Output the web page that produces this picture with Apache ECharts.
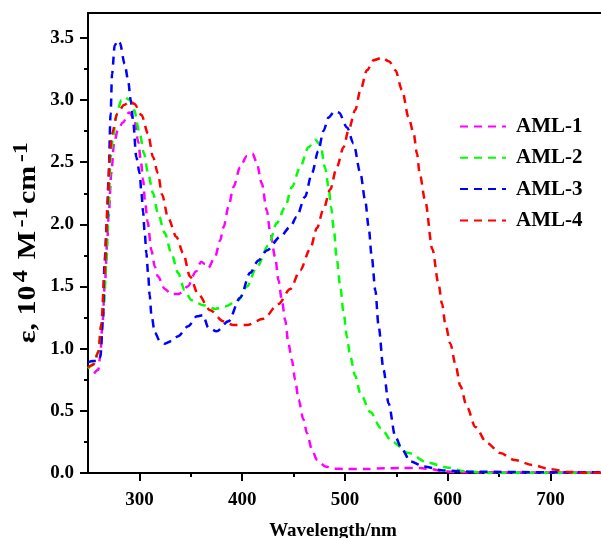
<!DOCTYPE html>
<html>
<head>
<meta charset="utf-8">
<script src="https://cdn.jsdelivr.net/npm/echarts@6/dist/echarts.min.js"></script>
<style>html,body{margin:0;padding:0;background:#fff}#c{width:601px;height:538px}</style>
</head>
<body>
<div id="c"></div>
<script>
// ---- data ----
var seriesNames = ['AML-1', 'AML-2', 'AML-3', 'AML-4'];
var xTicks = [300, 400, 500, 600, 700];
var xMinorTicks = [350, 450, 550, 650, 750];
var yTicks = [0, 0.5, 1.0, 1.5, 2.0, 2.5, 3.0, 3.5];
var yMinorTicks = [0.25, 0.75, 1.25, 1.75, 2.25, 2.75, 3.25];
var xTitle = 'Wavelength/nm';
var yTitle = '{a|ε, 10}{s|4}{a| M}{s|-1}{a|cm}{s|-1}';

var aml1Wl = [256,260,262,264,266.5,268.8,270,272.7,275.3,279,284,290,295,299,301.5,303.6,305.5,308,311.7,315,318,324.7,331,338,347,355,360,364,367,373.7,378.5,382,386.6,391.5,398,404.5,410,414,419,424,427,432,435.3,438.6,441.8,445,448.3,451.5,454.8,459.6,463,467.8,472.7,480.8,490,500,520,540,555,573,585,595,610,650,700,750];
var aml1Val = [0.80,0.83,0.95,1.20,1.53,1.87,2.06,2.41,2.65,2.76,2.82,2.90,2.85,2.66,2.50,2.36,2.18,2.02,1.79,1.66,1.58,1.48,1.44,1.44,1.50,1.62,1.70,1.68,1.65,1.74,1.87,1.98,2.14,2.30,2.46,2.55,2.57,2.50,2.33,2.11,1.95,1.74,1.55,1.39,1.23,1.04,0.91,0.75,0.59,0.43,0.32,0.19,0.107,0.053,0.035,0.032,0.032,0.038,0.04,0.04,0.03,0.015,0.007,0.005,0.004,0.004];

var aml2Wl = [250,253,256.5,260,263,265.6,267.8,270,272,274.3,277.6,282.5,286,290.6,294.8,300.3,304.5,308.4,313.3,318,324.7,331,337.6,344,350.6,362,373.7,383.4,396.4,404.5,414.3,425.6,433.7,441.8,448.3,456.4,464.5,471,476,480.8,484,486.5,489,492,495.4,498.6,502,505,510,515,524.6,535,546,562,580.5,599,617,635,650,750];
var aml2Val = [0.84,0.86,0.90,0.98,1.18,1.37,1.69,2.11,2.54,2.70,2.88,3.00,3.02,3.00,2.92,2.73,2.57,2.41,2.25,2.09,1.93,1.77,1.61,1.47,1.39,1.35,1.32,1.34,1.39,1.50,1.66,1.83,2.01,2.14,2.30,2.46,2.62,2.68,2.64,2.45,2.30,2.14,1.97,1.72,1.50,1.29,1.09,0.94,0.78,0.64,0.49,0.36,0.25,0.16,0.083,0.045,0.013,0.002,0,0];

var aml3Wl = [250,255,260,262,264.6,266,268.5,270,272,273.4,276,279,281,285.7,289,291.6,293.8,297,300.3,302,303.6,305,306.8,308.4,310,311.7,315,320,324.7,331,337.6,347.4,356,362,367,375,386.6,398,407.7,415.8,424,437,446.7,453,461,467.8,474,479,484,490,494,502,508.3,515,519.7,523,526,529.5,532.7,537.5,542.4,549,555.5,563.5,576.5,596,625,700,750];
var aml3Val = [0.89,0.90,0.90,0.93,1.23,1.69,2.03,2.38,2.89,3.21,3.44,3.48,3.46,3.29,3.16,3.00,2.84,2.54,2.41,2.25,2.10,1.95,1.77,1.61,1.43,1.27,1.13,1.06,1.04,1.06,1.10,1.18,1.26,1.27,1.17,1.14,1.22,1.41,1.61,1.71,1.79,1.90,1.98,2.06,2.22,2.41,2.59,2.75,2.86,2.91,2.90,2.78,2.65,2.41,2.19,1.98,1.74,1.47,1.18,0.83,0.56,0.29,0.19,0.093,0.053,0.02,0.01,0.006,0.006];

var aml4Wl = [250,255,260,263,266,269.5,271,273.4,278.5,285,291,295,302,308.4,313.3,318,322,328,336,342.5,349.3,357,368.8,381.7,391.5,404.5,420.7,435.3,446.7,456.4,466,472.7,479,485.6,492,498.6,503.5,510,515,521.4,527.8,536,543,549,555.5,561.9,566.8,570,572.6,578,585,591,594.4,597.6,602.5,607.3,612.2,618.7,626.8,638.2,651,665,682,700,718,735,750];
var aml4Val = [0.85,0.87,0.97,1.20,1.60,2.22,2.54,2.73,2.89,2.96,2.99,2.97,2.88,2.73,2.54,2.41,2.24,2.05,1.90,1.77,1.58,1.44,1.31,1.22,1.19,1.19,1.24,1.36,1.48,1.63,1.80,1.97,2.12,2.28,2.46,2.62,2.76,2.92,3.08,3.24,3.32,3.34,3.31,3.24,3.08,2.86,2.73,2.57,2.41,2.19,1.80,1.52,1.36,1.20,1.04,0.88,0.70,0.53,0.37,0.24,0.16,0.105,0.065,0.03,0.008,0.002,0.002];

var wls = [aml1Wl, aml2Wl, aml3Wl, aml4Wl];
var vals = [aml1Val, aml2Val, aml3Val, aml4Val];
var colors = ['#FF00FF', '#00FF00', '#0000FF', '#FF0000'];

function pairs(w, v) { return w.map(function (x, i) { return [x, v[i]]; }); }

var FONT = "'Liberation Serif', 'Times New Roman', serif";
var chart = echarts.init(document.getElementById('c'), null, {renderer: 'canvas'});

var series = seriesNames.map(function (n, i) {
  return {
    name: n, type: 'line', xAxisIndex: 0, yAxisIndex: 0,
    data: pairs(wls[i], vals[i]),
    showSymbol: false, symbol: 'none', smooth: 0.3, smoothMonotone: 'x',
    lineStyle: {color: colors[i], width: 2.5, type: [8, 6]},
    itemStyle: {color: colors[i]}
  };
});

chart.setOption({
  animation: false,
  backgroundColor: '#fff',
  color: colors,
  grid: {left: 88, right: -1, top: 13, bottom: 65, containLabel: false, outerBoundsMode: 'none'},
  legend: {
    orient: 'vertical', left: 459, top: 116, padding: 0,
    itemWidth: 46, itemHeight: 14, itemGap: 10.3,
    itemStyle: {opacity: 0},
    textStyle: {fontFamily: FONT, fontWeight: 'bold', fontSize: 21, color: '#000', padding: [0, 0, 0, 5]},
    data: seriesNames
  },
  graphic: [{
    type: 'text', x: 41, y: 241, rotation: Math.PI / 2, scaleX: 1.15, silent: true,
    style: {
      text: yTitle, align: 'center', verticalAlign: 'bottom',
      fontFamily: FONT, fontWeight: 'bold', fontSize: 26, fill: '#000',
      rich: {
        a: {fontFamily: FONT, fontWeight: 'bold', fontSize: 26, fill: '#000', lineHeight: 30, verticalAlign: 'bottom'},
        s: {fontFamily: FONT, fontWeight: 'bold', fontSize: 21, fill: '#000', lineHeight: 22, verticalAlign: 'top', padding: [0, 3, 0, 3]}
      }
    }
  }],
  xAxis: [{
    type: 'value', position: 'bottom', min: 250, max: 750,
    axisLine: {show: true, onZero: false, lineStyle: {color: '#000', width: 2}},
    axisTick: {show: true, customValues: xTicks, length: 8, lineStyle: {color: '#000', width: 2}},
    axisLabel: {customValues: xTicks, margin: 18, fontFamily: FONT, fontWeight: 'bold', fontSize: 19, color: '#000'},
    splitLine: {show: false},
    name: xTitle, nameLocation: 'middle', nameGap: 49,
    nameTextStyle: {fontFamily: FONT, fontWeight: 'bold', fontSize: 19, color: '#000', padding: [0, 24, 0, 0]}
  }, {
    type: 'value', position: 'bottom', min: 250, max: 750,
    axisLine: {show: false},
    axisTick: {show: true, customValues: xMinorTicks, length: 4, lineStyle: {color: '#000', width: 2}},
    axisLabel: {show: false}, splitLine: {show: false}
  }, {
    type: 'value', position: 'top', min: 250, max: 750,
    axisLine: {show: true, onZero: false, lineStyle: {color: '#000', width: 2}},
    axisTick: {show: false}, axisLabel: {show: false}, splitLine: {show: false}
  }],
  yAxis: [{
    type: 'value', position: 'left', min: 0, max: 3.7,
    axisLine: {show: true, onZero: false, lineStyle: {color: '#000', width: 2}},
    axisTick: {show: true, customValues: yTicks, length: 8, lineStyle: {color: '#000', width: 2}},
    axisLabel: {customValues: yTicks, margin: 14, fontFamily: FONT, fontWeight: 'bold', fontSize: 19, color: '#000',
      formatter: function (v) { return v.toFixed(1); }},
    splitLine: {show: false}
  }, {
    type: 'value', position: 'left', min: 0, max: 3.7,
    axisLine: {show: false},
    axisTick: {show: true, customValues: yMinorTicks, length: 4, lineStyle: {color: '#000', width: 2}},
    axisLabel: {show: false}, splitLine: {show: false}
  }],
  series: series
});
</script>
</body>
</html>
